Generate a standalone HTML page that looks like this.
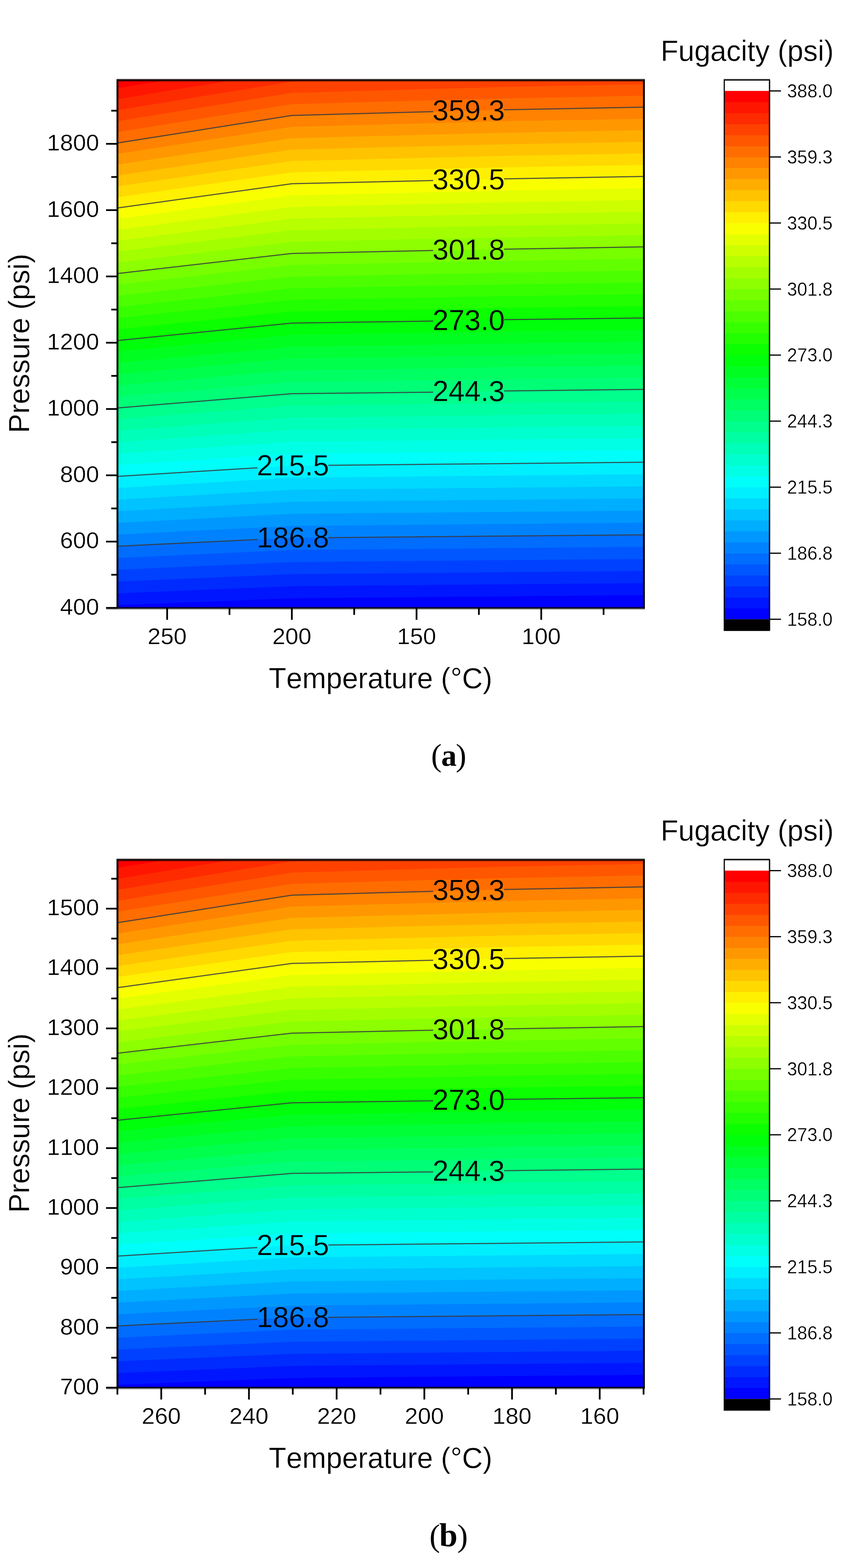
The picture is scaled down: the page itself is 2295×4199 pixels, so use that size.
<!DOCTYPE html>
<html lang="en">
<head>
<meta charset="utf-8">
<title>Fugacity contour plots</title>
<style>
html,body{margin:0;padding:0;background:#fff;}
body{width:2295px;height:4199px;}
svg{display:block;}
text{font-family:"Liberation Sans",Arial,Helvetica,sans-serif;fill:#000;stroke:#fff;stroke-width:0.5px;stroke-linejoin:round;font-kerning:none;}
text.cap,text.cap tspan{font-family:"Liberation Serif","Times New Roman",serif;stroke:none;}
</style>
</head>
<body>
<svg width="2295" height="4199" viewBox="0 0 2295 4199">
<defs>
<clipPath id="clipPlot"><rect x="314.5" y="213.6" width="1410" height="1414"/></clipPath>
</defs>

<rect width="2295" height="4199" fill="#fff"/>
<g id="plotA" transform="translate(0 0)">
<g clip-path="url(#clipPlot)">
<rect x="314.5" y="213.6" width="1410" height="1414" fill="#0000ff"/>
<polygon fill="#0016ff" points="309.5,208.6 1729.5,208.6 1729.5,1593.7 1724.5,1593.7 1350,1597.06 1160,1598.77 781.6,1602.17 314.5,1620.53 309.5,1620.53"/>
<polygon fill="#002bff" points="309.5,208.6 1729.5,208.6 1729.5,1561.4 1724.5,1561.4 1350,1564.75 1160,1566.45 781.6,1569.83 314.5,1588.96 309.5,1588.96"/>
<polygon fill="#0041ff" points="309.5,208.6 1729.5,208.6 1729.5,1529.1 1724.5,1529.1 1350,1532.44 1160,1534.13 781.6,1537.5 314.5,1557.38 309.5,1557.38"/>
<polygon fill="#0057ff" points="309.5,208.6 1729.5,208.6 1729.5,1496.8 1724.5,1496.8 1350,1500.12 1160,1501.81 781.6,1505.17 314.5,1525.8 309.5,1525.8"/>
<polygon fill="#006dff" points="309.5,208.6 1729.5,208.6 1729.5,1464.5 1724.5,1464.5 1350,1467.81 1160,1469.49 781.6,1472.83 314.5,1494.22 309.5,1494.22"/>
<polygon fill="#0082ff" points="309.5,208.6 1729.5,208.6 1729.5,1432.2 1724.5,1432.2 1350,1435.5 1160,1437.17 781.6,1440.5 314.5,1462.64 309.5,1462.64"/>
<polygon fill="#0098ff" points="309.5,208.6 1729.5,208.6 1729.5,1399.78 1724.5,1399.78 1350,1403.15 1160,1404.85 781.6,1408.25 314.5,1431.5 309.5,1431.5"/>
<polygon fill="#00aeff" points="309.5,208.6 1729.5,208.6 1729.5,1367.37 1724.5,1367.37 1350,1370.8 1160,1372.54 781.6,1376 314.5,1400.36 309.5,1400.36"/>
<polygon fill="#00c3ff" points="309.5,208.6 1729.5,208.6 1729.5,1334.95 1724.5,1334.95 1350,1338.45 1160,1340.22 781.6,1343.75 314.5,1369.21 309.5,1369.21"/>
<polygon fill="#00d9ff" points="309.5,208.6 1729.5,208.6 1729.5,1302.53 1724.5,1302.53 1350,1306.09 1160,1307.9 781.6,1311.5 314.5,1338.07 309.5,1338.07"/>
<polygon fill="#00efff" points="309.5,208.6 1729.5,208.6 1729.5,1270.12 1724.5,1270.12 1350,1273.74 1160,1275.58 781.6,1279.25 314.5,1306.93 309.5,1306.93"/>
<polygon fill="#00fffa" points="309.5,208.6 1729.5,208.6 1729.5,1237.7 1724.5,1237.7 1350,1241.39 1160,1243.27 781.6,1247 314.5,1275.78 309.5,1275.78"/>
<polygon fill="#00ffe4" points="309.5,208.6 1729.5,208.6 1729.5,1205.2 1724.5,1205.2 1350,1209 1160,1211.08 781.6,1214.88 314.5,1245.23 309.5,1245.23"/>
<polygon fill="#00ffce" points="309.5,208.6 1729.5,208.6 1729.5,1172.7 1724.5,1172.7 1350,1176.6 1160,1178.89 781.6,1182.77 314.5,1214.67 309.5,1214.67"/>
<polygon fill="#00ffb8" points="309.5,208.6 1729.5,208.6 1729.5,1140.2 1724.5,1140.2 1350,1144.2 1160,1146.71 781.6,1150.65 314.5,1184.11 309.5,1184.11"/>
<polygon fill="#00ffa3" points="309.5,208.6 1729.5,208.6 1729.5,1107.7 1724.5,1107.7 1350,1111.8 1160,1114.52 781.6,1118.53 314.5,1153.56 309.5,1153.56"/>
<polygon fill="#00ff8d" points="309.5,208.6 1729.5,208.6 1729.5,1075.2 1724.5,1075.2 1350,1079.41 1160,1082.33 781.6,1086.42 314.5,1123 309.5,1123"/>
<polygon fill="#00ff77" points="309.5,208.6 1729.5,208.6 1729.5,1042.7 1724.5,1042.7 1350,1047.01 1160,1050.14 781.6,1054.3 314.5,1092.44 309.5,1092.44"/>
<polygon fill="#00ff62" points="309.5,208.6 1729.5,208.6 1729.5,1010.82 1724.5,1010.82 1350,1015.19 1160,1018.43 781.6,1022.78 314.5,1062.35 309.5,1062.35"/>
<polygon fill="#00ff4c" points="309.5,208.6 1729.5,208.6 1729.5,978.93 1724.5,978.93 1350,983.37 1160,986.72 781.6,991.27 314.5,1032.26 309.5,1032.26"/>
<polygon fill="#00ff36" points="309.5,208.6 1729.5,208.6 1729.5,947.05 1724.5,947.05 1350,951.54 1160,955 781.6,959.75 314.5,1002.17 309.5,1002.17"/>
<polygon fill="#00ff21" points="309.5,208.6 1729.5,208.6 1729.5,915.17 1724.5,915.17 1350,919.72 1160,923.29 781.6,928.23 314.5,972.08 309.5,972.08"/>
<polygon fill="#00ff0b" points="309.5,208.6 1729.5,208.6 1729.5,883.28 1724.5,883.28 1350,887.9 1160,891.58 781.6,896.72 314.5,941.99 309.5,941.99"/>
<polygon fill="#0bff00" points="309.5,208.6 1729.5,208.6 1729.5,851.4 1724.5,851.4 1350,856.08 1160,859.86 781.6,865.2 314.5,911.9 309.5,911.9"/>
<polygon fill="#21ff00" points="309.5,208.6 1729.5,208.6 1729.5,819.68 1724.5,819.68 1350,824.62 1160,828.33 781.6,834.13 314.5,881.99 309.5,881.99"/>
<polygon fill="#36ff00" points="309.5,208.6 1729.5,208.6 1729.5,787.97 1724.5,787.97 1350,793.16 1160,796.81 781.6,803.07 314.5,852.08 309.5,852.08"/>
<polygon fill="#4cff00" points="309.5,208.6 1729.5,208.6 1729.5,756.25 1724.5,756.25 1350,761.71 1160,765.28 781.6,772 314.5,822.17 309.5,822.17"/>
<polygon fill="#62ff00" points="309.5,208.6 1729.5,208.6 1729.5,724.53 1724.5,724.53 1350,730.25 1160,733.75 781.6,740.93 314.5,792.26 309.5,792.26"/>
<polygon fill="#77ff00" points="309.5,208.6 1729.5,208.6 1729.5,692.82 1724.5,692.82 1350,698.79 1160,702.22 781.6,709.87 314.5,762.35 309.5,762.35"/>
<polygon fill="#8dff00" points="309.5,208.6 1729.5,208.6 1729.5,661.1 1724.5,661.1 1350,667.33 1160,670.7 781.6,678.8 314.5,732.44 309.5,732.44"/>
<polygon fill="#a3ff00" points="309.5,208.6 1729.5,208.6 1729.5,629.68 1724.5,629.68 1350,635.93 1160,639.51 781.6,647.68 314.5,703.19 309.5,703.19"/>
<polygon fill="#b8ff00" points="309.5,208.6 1729.5,208.6 1729.5,598.27 1724.5,598.27 1350,604.54 1160,608.32 781.6,616.57 314.5,673.94 309.5,673.94"/>
<polygon fill="#ceff00" points="309.5,208.6 1729.5,208.6 1729.5,566.85 1724.5,566.85 1350,573.14 1160,577.14 781.6,585.45 314.5,644.68 309.5,644.68"/>
<polygon fill="#e4ff00" points="309.5,208.6 1729.5,208.6 1729.5,535.43 1724.5,535.43 1350,541.74 1160,545.95 781.6,554.33 314.5,615.43 309.5,615.43"/>
<polygon fill="#faff00" points="309.5,208.6 1729.5,208.6 1729.5,504.02 1724.5,504.02 1350,510.34 1160,514.76 781.6,523.22 314.5,586.17 309.5,586.17"/>
<polygon fill="#ffef00" points="309.5,208.6 1729.5,208.6 1729.5,472.6 1724.5,472.6 1350,478.94 1160,483.57 781.6,492.1 314.5,556.92 309.5,556.92"/>
<polygon fill="#ffd900" points="309.5,208.6 1729.5,208.6 1729.5,441.67 1724.5,441.67 1350,448.12 1160,452.79 781.6,461.62 314.5,527.94 309.5,527.94"/>
<polygon fill="#ffc300" points="309.5,208.6 1729.5,208.6 1729.5,410.73 1724.5,410.73 1350,417.3 1160,422.01 781.6,431.13 314.5,498.97 309.5,498.97"/>
<polygon fill="#ffae00" points="309.5,208.6 1729.5,208.6 1729.5,379.8 1724.5,379.8 1350,386.48 1160,391.23 781.6,400.65 314.5,470 309.5,470"/>
<polygon fill="#ff9800" points="309.5,208.6 1729.5,208.6 1729.5,348.87 1724.5,348.87 1350,355.66 1160,360.45 781.6,370.17 314.5,441.02 309.5,441.02"/>
<polygon fill="#ff8200" points="309.5,208.6 1729.5,208.6 1729.5,317.93 1724.5,317.93 1350,324.84 1160,329.67 781.6,339.68 314.5,412.05 309.5,412.05"/>
<polygon fill="#ff6d00" points="309.5,208.6 1729.5,208.6 1729.5,287 1724.5,287 1350,294.02 1160,298.89 781.6,309.2 314.5,383.07 309.5,383.07"/>
<polygon fill="#ff5700" points="309.5,208.6 1729.5,208.6 1729.5,256.33 1724.5,256.33 1350,263.54 1160,268.5 781.6,279 314.5,353.73 309.5,353.73"/>
<polygon fill="#ff4100" points="309.5,208.6 1729.5,208.6 1729.5,225.67 1724.5,225.67 1350,233.05 1160,238.12 781.6,248.8 314.5,324.39 309.5,324.39"/>
<polygon fill="#ff2b00" points="309.5,208.6 1729.5,208.6 1729.5,195 1724.5,195 1350,202.57 1160,207.73 781.6,218.6 314.5,295.04 309.5,295.04"/>
<polygon fill="#ff1600" points="309.5,208.6 1729.5,208.6 1729.5,164.33 1724.5,164.33 1350,172.09 1160,177.34 781.6,188.4 314.5,265.7 309.5,265.7"/>
<polygon fill="#ff0000" points="309.5,208.6 1729.5,208.6 1729.5,133.67 1724.5,133.67 1350,141.61 1160,146.95 781.6,158.2 314.5,236.35 309.5,236.35"/>
</g>
<g fill="none" stroke="#383a40" stroke-opacity="0.86" stroke-width="3" clip-path="url(#clipPlot)">
<polyline points="314.5,383.07 781.6,309.2 1160,298.89"/>
<polyline points="1350,294.02 1724.5,287"/>
<polyline points="314.5,556.92 781.6,492.1 1160,483.57"/>
<polyline points="1350,478.94 1724.5,472.6"/>
<polyline points="314.5,732.44 781.6,678.8 1160,670.7"/>
<polyline points="1350,667.33 1724.5,661.1"/>
<polyline points="314.5,911.9 781.6,865.2 1160,859.86"/>
<polyline points="1350,856.08 1724.5,851.4"/>
<polyline points="314.5,1092.44 781.6,1054.3 1160,1050.14"/>
<polyline points="1350,1047.01 1724.5,1042.7"/>
<polyline points="314.5,1275.78 689.4,1252.68"/>
<polyline points="879.4,1246.04 1160,1243.27 1350,1241.39 1724.5,1237.7"/>
<polyline points="314.5,1462.64 689.4,1444.87"/>
<polyline points="879.4,1439.64 1160,1437.17 1350,1435.5 1724.5,1432.2"/>
</g>
<g class="clab">
<text text-anchor="middle" font-size="77" transform="translate(1255 322.14) scale(1.005 1)" style="stroke:#ff7700">359.3</text>
<text text-anchor="middle" font-size="77" transform="translate(1255 506.95) scale(1.005 1)" style="stroke:#fffa00">330.5</text>
<text text-anchor="middle" font-size="77" transform="translate(1255 694.7) scale(1.005 1)" style="stroke:#82ff00">301.8</text>
<text text-anchor="middle" font-size="77" transform="translate(1255 883.66) scale(1.005 1)" style="stroke:#00ff00">273.0</text>
<text text-anchor="middle" font-size="77" transform="translate(1255 1074.26) scale(1.005 1)" style="stroke:#00ff82">244.3</text>
<text text-anchor="middle" font-size="77" transform="translate(784.4 1272.66) scale(1.005 1)" style="stroke:#00faff">215.5</text>
<text text-anchor="middle" font-size="77" transform="translate(784.4 1466.16) scale(1.005 1)" style="stroke:#0077ff">186.8</text>
</g>
<rect x="312" y="211.2" width="1414.9" height="2.3" fill="#5c5c5c"/>
<rect x="317" y="216" width="1404.9" height="2.7" fill="#000" fill-opacity="0.42"/>
<rect x="317" y="1624.8" width="1404.9" height="2.4" fill="#000" fill-opacity="0.42"/>
<rect x="284.5" y="1629.6" width="1442.4" height="3.1" fill="#a3a3a3"/>
<g stroke="#000" stroke-width="4.6">
<line x1="284" y1="1627.9" x2="314.5" y2="1627.9"/>
<line x1="284" y1="1450.37" x2="314.5" y2="1450.37"/>
<line x1="284" y1="1272.84" x2="314.5" y2="1272.84"/>
<line x1="284" y1="1095.32" x2="314.5" y2="1095.32"/>
<line x1="284" y1="917.79" x2="314.5" y2="917.79"/>
<line x1="284" y1="740.26" x2="314.5" y2="740.26"/>
<line x1="284" y1="562.73" x2="314.5" y2="562.73"/>
<line x1="284" y1="385.2" x2="314.5" y2="385.2"/>
<line x1="298" y1="1539.14" x2="314.5" y2="1539.14"/>
<line x1="298" y1="1361.61" x2="314.5" y2="1361.61"/>
<line x1="298" y1="1184.08" x2="314.5" y2="1184.08"/>
<line x1="298" y1="1006.55" x2="314.5" y2="1006.55"/>
<line x1="298" y1="829.02" x2="314.5" y2="829.02"/>
<line x1="298" y1="651.5" x2="314.5" y2="651.5"/>
<line x1="298" y1="473.97" x2="314.5" y2="473.97"/>
<line x1="298" y1="296.44" x2="314.5" y2="296.44"/>
<line x1="447.6" y1="1627.6" x2="447.6" y2="1659.8"/>
<line x1="781.54" y1="1627.6" x2="781.54" y2="1659.8"/>
<line x1="1115.47" y1="1627.6" x2="1115.47" y2="1659.8"/>
<line x1="1449.41" y1="1627.6" x2="1449.41" y2="1659.8"/>
<line x1="614.57" y1="1627.6" x2="614.57" y2="1646.6"/>
<line x1="948.5" y1="1627.6" x2="948.5" y2="1646.6"/>
<line x1="1282.44" y1="1627.6" x2="1282.44" y2="1646.6"/>
<line x1="1616.37" y1="1627.6" x2="1616.37" y2="1646.6"/>
</g>
<g fill="#000">
<rect x="312" y="213.4" width="1414.9" height="2.8"/>
<rect x="312" y="1627" width="1414.9" height="2.8"/>
<rect x="312" y="213.4" width="5.1" height="1416.4"/>
<rect x="1721.8" y="213.4" width="5.1" height="1416.4"/>
</g>
<g class="tl" style="stroke-width:0.4px">
<text text-anchor="end" font-size="61.5" transform="translate(265.3 1645.76) scale(1.02 1)">400</text>
<text text-anchor="end" font-size="61.5" transform="translate(265.3 1468.23) scale(1.02 1)">600</text>
<text text-anchor="end" font-size="61.5" transform="translate(265.3 1290.7) scale(1.02 1)">800</text>
<text text-anchor="end" font-size="61.5" transform="translate(265.3 1113.17) scale(1.02 1)">1000</text>
<text text-anchor="end" font-size="61.5" transform="translate(265.3 935.64) scale(1.02 1)">1200</text>
<text text-anchor="end" font-size="61.5" transform="translate(265.3 758.12) scale(1.02 1)">1400</text>
<text text-anchor="end" font-size="61.5" transform="translate(265.3 580.59) scale(1.02 1)">1600</text>
<text text-anchor="end" font-size="61.5" transform="translate(265.3 403.06) scale(1.02 1)">1800</text>
</g>
<g class="tl" style="stroke-width:0.4px">
<text text-anchor="middle" font-size="61.5" transform="translate(447.6 1725.46) scale(1.02 1)">250</text>
<text text-anchor="middle" font-size="61.5" transform="translate(781.54 1725.46) scale(1.02 1)">200</text>
<text text-anchor="middle" font-size="61.5" transform="translate(1115.47 1725.46) scale(1.02 1)">150</text>
<text text-anchor="middle" font-size="61.5" transform="translate(1449.41 1725.46) scale(1.02 1)">100</text>
</g>
<text class="ttl" text-anchor="middle" font-size="78" transform="translate(1019 1843.4) scale(0.985 1)">Temperature (°C)</text>
<text class="ttl" font-size="77" text-anchor="middle" transform="translate(77.6 919.4) rotate(-90) scale(1.002 1)">Pressure (psi)</text>
<g>
<rect x="1939.5" y="214.3" width="121" height="29.2" fill="#fff"/>
<rect x="1939.5" y="1628.83" width="121" height="29.47" fill="#0000ff"/>
<rect x="1939.5" y="1599.35" width="121" height="30.07" fill="#0016ff"/>
<rect x="1939.5" y="1569.88" width="121" height="30.07" fill="#002bff"/>
<rect x="1939.5" y="1540.4" width="121" height="30.07" fill="#0041ff"/>
<rect x="1939.5" y="1510.92" width="121" height="30.07" fill="#0057ff"/>
<rect x="1939.5" y="1481.45" width="121" height="30.07" fill="#006dff"/>
<rect x="1939.5" y="1451.98" width="121" height="30.07" fill="#0082ff"/>
<rect x="1939.5" y="1422.5" width="121" height="30.07" fill="#0098ff"/>
<rect x="1939.5" y="1393.03" width="121" height="30.07" fill="#00aeff"/>
<rect x="1939.5" y="1363.55" width="121" height="30.07" fill="#00c3ff"/>
<rect x="1939.5" y="1334.08" width="121" height="30.07" fill="#00d9ff"/>
<rect x="1939.5" y="1304.6" width="121" height="30.07" fill="#00efff"/>
<rect x="1939.5" y="1275.12" width="121" height="30.07" fill="#00fffa"/>
<rect x="1939.5" y="1245.65" width="121" height="30.07" fill="#00ffe4"/>
<rect x="1939.5" y="1216.18" width="121" height="30.07" fill="#00ffce"/>
<rect x="1939.5" y="1186.7" width="121" height="30.07" fill="#00ffb8"/>
<rect x="1939.5" y="1157.23" width="121" height="30.07" fill="#00ffa3"/>
<rect x="1939.5" y="1127.75" width="121" height="30.07" fill="#00ff8d"/>
<rect x="1939.5" y="1098.28" width="121" height="30.07" fill="#00ff77"/>
<rect x="1939.5" y="1068.8" width="121" height="30.07" fill="#00ff62"/>
<rect x="1939.5" y="1039.33" width="121" height="30.07" fill="#00ff4c"/>
<rect x="1939.5" y="1009.85" width="121" height="30.07" fill="#00ff36"/>
<rect x="1939.5" y="980.38" width="121" height="30.07" fill="#00ff21"/>
<rect x="1939.5" y="950.9" width="121" height="30.07" fill="#00ff0b"/>
<rect x="1939.5" y="921.42" width="121" height="30.07" fill="#0bff00"/>
<rect x="1939.5" y="891.95" width="121" height="30.07" fill="#21ff00"/>
<rect x="1939.5" y="862.48" width="121" height="30.07" fill="#36ff00"/>
<rect x="1939.5" y="833" width="121" height="30.07" fill="#4cff00"/>
<rect x="1939.5" y="803.52" width="121" height="30.07" fill="#62ff00"/>
<rect x="1939.5" y="774.05" width="121" height="30.07" fill="#77ff00"/>
<rect x="1939.5" y="744.58" width="121" height="30.07" fill="#8dff00"/>
<rect x="1939.5" y="715.1" width="121" height="30.07" fill="#a3ff00"/>
<rect x="1939.5" y="685.62" width="121" height="30.07" fill="#b8ff00"/>
<rect x="1939.5" y="656.15" width="121" height="30.07" fill="#ceff00"/>
<rect x="1939.5" y="626.67" width="121" height="30.07" fill="#e4ff00"/>
<rect x="1939.5" y="597.2" width="121" height="30.07" fill="#faff00"/>
<rect x="1939.5" y="567.73" width="121" height="30.07" fill="#ffef00"/>
<rect x="1939.5" y="538.25" width="121" height="30.07" fill="#ffd900"/>
<rect x="1939.5" y="508.77" width="121" height="30.07" fill="#ffc300"/>
<rect x="1939.5" y="479.3" width="121" height="30.07" fill="#ffae00"/>
<rect x="1939.5" y="449.82" width="121" height="30.07" fill="#ff9800"/>
<rect x="1939.5" y="420.35" width="121" height="30.07" fill="#ff8200"/>
<rect x="1939.5" y="390.88" width="121" height="30.07" fill="#ff6d00"/>
<rect x="1939.5" y="361.4" width="121" height="30.07" fill="#ff5700"/>
<rect x="1939.5" y="331.93" width="121" height="30.07" fill="#ff4100"/>
<rect x="1939.5" y="302.45" width="121" height="30.07" fill="#ff2b00"/>
<rect x="1939.5" y="272.98" width="121" height="30.07" fill="#ff1600"/>
<rect x="1939.5" y="243.5" width="121" height="30.07" fill="#ff0000"/>
<rect x="1939.5" y="1658.3" width="121" height="29.9" fill="#000"/>
<rect x="1938" y="211.1" width="124" height="2" fill="#8a8a8a"/>
<rect x="2062" y="214.3" width="2" height="1473.9" fill="#c4c4c4"/>
<rect x="1939.5" y="214.3" width="121" height="1473.9" fill="none" stroke="#000" stroke-width="3"/>
<g stroke="#000" stroke-width="3.2">
<line x1="2062" y1="243.5" x2="2091.5" y2="243.5"/>
<line x1="2062" y1="420.35" x2="2091.5" y2="420.35"/>
<line x1="2062" y1="597.2" x2="2091.5" y2="597.2"/>
<line x1="2062" y1="774.05" x2="2091.5" y2="774.05"/>
<line x1="2062" y1="950.9" x2="2091.5" y2="950.9"/>
<line x1="2062" y1="1127.75" x2="2091.5" y2="1127.75"/>
<line x1="2062" y1="1304.6" x2="2091.5" y2="1304.6"/>
<line x1="2062" y1="1481.45" x2="2091.5" y2="1481.45"/>
<line x1="2062" y1="1658.3" x2="2091.5" y2="1658.3"/>
</g>
<g class="cbl" style="stroke:none">
<text font-size="50.3" transform="translate(2107.8 261) scale(0.967 1)">388.0</text>
<text font-size="50.3" transform="translate(2107.8 437.85) scale(0.967 1)">359.3</text>
<text font-size="50.3" transform="translate(2107.8 614.7) scale(0.967 1)">330.5</text>
<text font-size="50.3" transform="translate(2107.8 791.55) scale(0.967 1)">301.8</text>
<text font-size="50.3" transform="translate(2107.8 968.4) scale(0.967 1)">273.0</text>
<text font-size="50.3" transform="translate(2107.8 1145.25) scale(0.967 1)">244.3</text>
<text font-size="50.3" transform="translate(2107.8 1322.1) scale(0.967 1)">215.5</text>
<text font-size="50.3" transform="translate(2107.8 1498.95) scale(0.967 1)">186.8</text>
<text font-size="50.3" transform="translate(2107.8 1675.8) scale(0.967 1)">158.0</text>
</g>
<text class="ttl" font-size="77" transform="translate(1769.3 162.8) scale(1.003 1)">Fugacity (psi)</text>
</g>
</g>
<g id="plotB" transform="translate(0 2088)">
<g clip-path="url(#clipPlot)">
<rect x="314.5" y="213.6" width="1410" height="1414" fill="#0000ff"/>
<polygon fill="#0016ff" points="309.5,208.6 1729.5,208.6 1729.5,1593.7 1724.5,1593.7 1350,1597.06 1160,1598.77 781.6,1602.17 314.5,1620.53 309.5,1620.53"/>
<polygon fill="#002bff" points="309.5,208.6 1729.5,208.6 1729.5,1561.4 1724.5,1561.4 1350,1564.75 1160,1566.45 781.6,1569.83 314.5,1588.96 309.5,1588.96"/>
<polygon fill="#0041ff" points="309.5,208.6 1729.5,208.6 1729.5,1529.1 1724.5,1529.1 1350,1532.44 1160,1534.13 781.6,1537.5 314.5,1557.38 309.5,1557.38"/>
<polygon fill="#0057ff" points="309.5,208.6 1729.5,208.6 1729.5,1496.8 1724.5,1496.8 1350,1500.12 1160,1501.81 781.6,1505.17 314.5,1525.8 309.5,1525.8"/>
<polygon fill="#006dff" points="309.5,208.6 1729.5,208.6 1729.5,1464.5 1724.5,1464.5 1350,1467.81 1160,1469.49 781.6,1472.83 314.5,1494.22 309.5,1494.22"/>
<polygon fill="#0082ff" points="309.5,208.6 1729.5,208.6 1729.5,1432.2 1724.5,1432.2 1350,1435.5 1160,1437.17 781.6,1440.5 314.5,1462.64 309.5,1462.64"/>
<polygon fill="#0098ff" points="309.5,208.6 1729.5,208.6 1729.5,1399.78 1724.5,1399.78 1350,1403.15 1160,1404.85 781.6,1408.25 314.5,1431.5 309.5,1431.5"/>
<polygon fill="#00aeff" points="309.5,208.6 1729.5,208.6 1729.5,1367.37 1724.5,1367.37 1350,1370.8 1160,1372.54 781.6,1376 314.5,1400.36 309.5,1400.36"/>
<polygon fill="#00c3ff" points="309.5,208.6 1729.5,208.6 1729.5,1334.95 1724.5,1334.95 1350,1338.45 1160,1340.22 781.6,1343.75 314.5,1369.21 309.5,1369.21"/>
<polygon fill="#00d9ff" points="309.5,208.6 1729.5,208.6 1729.5,1302.53 1724.5,1302.53 1350,1306.09 1160,1307.9 781.6,1311.5 314.5,1338.07 309.5,1338.07"/>
<polygon fill="#00efff" points="309.5,208.6 1729.5,208.6 1729.5,1270.12 1724.5,1270.12 1350,1273.74 1160,1275.58 781.6,1279.25 314.5,1306.93 309.5,1306.93"/>
<polygon fill="#00fffa" points="309.5,208.6 1729.5,208.6 1729.5,1237.7 1724.5,1237.7 1350,1241.39 1160,1243.27 781.6,1247 314.5,1275.78 309.5,1275.78"/>
<polygon fill="#00ffe4" points="309.5,208.6 1729.5,208.6 1729.5,1205.2 1724.5,1205.2 1350,1209 1160,1211.08 781.6,1214.88 314.5,1245.23 309.5,1245.23"/>
<polygon fill="#00ffce" points="309.5,208.6 1729.5,208.6 1729.5,1172.7 1724.5,1172.7 1350,1176.6 1160,1178.89 781.6,1182.77 314.5,1214.67 309.5,1214.67"/>
<polygon fill="#00ffb8" points="309.5,208.6 1729.5,208.6 1729.5,1140.2 1724.5,1140.2 1350,1144.2 1160,1146.71 781.6,1150.65 314.5,1184.11 309.5,1184.11"/>
<polygon fill="#00ffa3" points="309.5,208.6 1729.5,208.6 1729.5,1107.7 1724.5,1107.7 1350,1111.8 1160,1114.52 781.6,1118.53 314.5,1153.56 309.5,1153.56"/>
<polygon fill="#00ff8d" points="309.5,208.6 1729.5,208.6 1729.5,1075.2 1724.5,1075.2 1350,1079.41 1160,1082.33 781.6,1086.42 314.5,1123 309.5,1123"/>
<polygon fill="#00ff77" points="309.5,208.6 1729.5,208.6 1729.5,1042.7 1724.5,1042.7 1350,1047.01 1160,1050.14 781.6,1054.3 314.5,1092.44 309.5,1092.44"/>
<polygon fill="#00ff62" points="309.5,208.6 1729.5,208.6 1729.5,1010.82 1724.5,1010.82 1350,1015.19 1160,1018.43 781.6,1022.78 314.5,1062.35 309.5,1062.35"/>
<polygon fill="#00ff4c" points="309.5,208.6 1729.5,208.6 1729.5,978.93 1724.5,978.93 1350,983.37 1160,986.72 781.6,991.27 314.5,1032.26 309.5,1032.26"/>
<polygon fill="#00ff36" points="309.5,208.6 1729.5,208.6 1729.5,947.05 1724.5,947.05 1350,951.54 1160,955 781.6,959.75 314.5,1002.17 309.5,1002.17"/>
<polygon fill="#00ff21" points="309.5,208.6 1729.5,208.6 1729.5,915.17 1724.5,915.17 1350,919.72 1160,923.29 781.6,928.23 314.5,972.08 309.5,972.08"/>
<polygon fill="#00ff0b" points="309.5,208.6 1729.5,208.6 1729.5,883.28 1724.5,883.28 1350,887.9 1160,891.58 781.6,896.72 314.5,941.99 309.5,941.99"/>
<polygon fill="#0bff00" points="309.5,208.6 1729.5,208.6 1729.5,851.4 1724.5,851.4 1350,856.08 1160,859.86 781.6,865.2 314.5,911.9 309.5,911.9"/>
<polygon fill="#21ff00" points="309.5,208.6 1729.5,208.6 1729.5,819.68 1724.5,819.68 1350,824.62 1160,828.33 781.6,834.13 314.5,881.99 309.5,881.99"/>
<polygon fill="#36ff00" points="309.5,208.6 1729.5,208.6 1729.5,787.97 1724.5,787.97 1350,793.16 1160,796.81 781.6,803.07 314.5,852.08 309.5,852.08"/>
<polygon fill="#4cff00" points="309.5,208.6 1729.5,208.6 1729.5,756.25 1724.5,756.25 1350,761.71 1160,765.28 781.6,772 314.5,822.17 309.5,822.17"/>
<polygon fill="#62ff00" points="309.5,208.6 1729.5,208.6 1729.5,724.53 1724.5,724.53 1350,730.25 1160,733.75 781.6,740.93 314.5,792.26 309.5,792.26"/>
<polygon fill="#77ff00" points="309.5,208.6 1729.5,208.6 1729.5,692.82 1724.5,692.82 1350,698.79 1160,702.22 781.6,709.87 314.5,762.35 309.5,762.35"/>
<polygon fill="#8dff00" points="309.5,208.6 1729.5,208.6 1729.5,661.1 1724.5,661.1 1350,667.33 1160,670.7 781.6,678.8 314.5,732.44 309.5,732.44"/>
<polygon fill="#a3ff00" points="309.5,208.6 1729.5,208.6 1729.5,629.68 1724.5,629.68 1350,635.93 1160,639.51 781.6,647.68 314.5,703.19 309.5,703.19"/>
<polygon fill="#b8ff00" points="309.5,208.6 1729.5,208.6 1729.5,598.27 1724.5,598.27 1350,604.54 1160,608.32 781.6,616.57 314.5,673.94 309.5,673.94"/>
<polygon fill="#ceff00" points="309.5,208.6 1729.5,208.6 1729.5,566.85 1724.5,566.85 1350,573.14 1160,577.14 781.6,585.45 314.5,644.68 309.5,644.68"/>
<polygon fill="#e4ff00" points="309.5,208.6 1729.5,208.6 1729.5,535.43 1724.5,535.43 1350,541.74 1160,545.95 781.6,554.33 314.5,615.43 309.5,615.43"/>
<polygon fill="#faff00" points="309.5,208.6 1729.5,208.6 1729.5,504.02 1724.5,504.02 1350,510.34 1160,514.76 781.6,523.22 314.5,586.17 309.5,586.17"/>
<polygon fill="#ffef00" points="309.5,208.6 1729.5,208.6 1729.5,472.6 1724.5,472.6 1350,478.94 1160,483.57 781.6,492.1 314.5,556.92 309.5,556.92"/>
<polygon fill="#ffd900" points="309.5,208.6 1729.5,208.6 1729.5,441.67 1724.5,441.67 1350,448.12 1160,452.79 781.6,461.62 314.5,527.94 309.5,527.94"/>
<polygon fill="#ffc300" points="309.5,208.6 1729.5,208.6 1729.5,410.73 1724.5,410.73 1350,417.3 1160,422.01 781.6,431.13 314.5,498.97 309.5,498.97"/>
<polygon fill="#ffae00" points="309.5,208.6 1729.5,208.6 1729.5,379.8 1724.5,379.8 1350,386.48 1160,391.23 781.6,400.65 314.5,470 309.5,470"/>
<polygon fill="#ff9800" points="309.5,208.6 1729.5,208.6 1729.5,348.87 1724.5,348.87 1350,355.66 1160,360.45 781.6,370.17 314.5,441.02 309.5,441.02"/>
<polygon fill="#ff8200" points="309.5,208.6 1729.5,208.6 1729.5,317.93 1724.5,317.93 1350,324.84 1160,329.67 781.6,339.68 314.5,412.05 309.5,412.05"/>
<polygon fill="#ff6d00" points="309.5,208.6 1729.5,208.6 1729.5,287 1724.5,287 1350,294.02 1160,298.89 781.6,309.2 314.5,383.07 309.5,383.07"/>
<polygon fill="#ff5700" points="309.5,208.6 1729.5,208.6 1729.5,256.33 1724.5,256.33 1350,263.54 1160,268.5 781.6,279 314.5,353.73 309.5,353.73"/>
<polygon fill="#ff4100" points="309.5,208.6 1729.5,208.6 1729.5,225.67 1724.5,225.67 1350,233.05 1160,238.12 781.6,248.8 314.5,324.39 309.5,324.39"/>
<polygon fill="#ff2b00" points="309.5,208.6 1729.5,208.6 1729.5,195 1724.5,195 1350,202.57 1160,207.73 781.6,218.6 314.5,295.04 309.5,295.04"/>
<polygon fill="#ff1600" points="309.5,208.6 1729.5,208.6 1729.5,164.33 1724.5,164.33 1350,172.09 1160,177.34 781.6,188.4 314.5,265.7 309.5,265.7"/>
<polygon fill="#ff0000" points="309.5,208.6 1729.5,208.6 1729.5,133.67 1724.5,133.67 1350,141.61 1160,146.95 781.6,158.2 314.5,236.35 309.5,236.35"/>
</g>
<g fill="none" stroke="#383a40" stroke-opacity="0.86" stroke-width="3" clip-path="url(#clipPlot)">
<polyline points="314.5,383.07 781.6,309.2 1160,298.89"/>
<polyline points="1350,294.02 1724.5,287"/>
<polyline points="314.5,556.92 781.6,492.1 1160,483.57"/>
<polyline points="1350,478.94 1724.5,472.6"/>
<polyline points="314.5,732.44 781.6,678.8 1160,670.7"/>
<polyline points="1350,667.33 1724.5,661.1"/>
<polyline points="314.5,911.9 781.6,865.2 1160,859.86"/>
<polyline points="1350,856.08 1724.5,851.4"/>
<polyline points="314.5,1092.44 781.6,1054.3 1160,1050.14"/>
<polyline points="1350,1047.01 1724.5,1042.7"/>
<polyline points="314.5,1275.78 689.4,1252.68"/>
<polyline points="879.4,1246.04 1160,1243.27 1350,1241.39 1724.5,1237.7"/>
<polyline points="314.5,1462.64 689.4,1444.87"/>
<polyline points="879.4,1439.64 1160,1437.17 1350,1435.5 1724.5,1432.2"/>
</g>
<g class="clab">
<text text-anchor="middle" font-size="77" transform="translate(1255 322.14) scale(1.005 1)" style="stroke:#ff7700">359.3</text>
<text text-anchor="middle" font-size="77" transform="translate(1255 506.95) scale(1.005 1)" style="stroke:#fffa00">330.5</text>
<text text-anchor="middle" font-size="77" transform="translate(1255 694.7) scale(1.005 1)" style="stroke:#82ff00">301.8</text>
<text text-anchor="middle" font-size="77" transform="translate(1255 883.66) scale(1.005 1)" style="stroke:#00ff00">273.0</text>
<text text-anchor="middle" font-size="77" transform="translate(1255 1074.26) scale(1.005 1)" style="stroke:#00ff82">244.3</text>
<text text-anchor="middle" font-size="77" transform="translate(784.4 1272.66) scale(1.005 1)" style="stroke:#00faff">215.5</text>
<text text-anchor="middle" font-size="77" transform="translate(784.4 1466.16) scale(1.005 1)" style="stroke:#0077ff">186.8</text>
</g>
<rect x="312" y="211.2" width="1414.9" height="2.3" fill="#5c5c5c"/>
<rect x="317" y="216" width="1404.9" height="2.7" fill="#000" fill-opacity="0.42"/>
<rect x="317" y="1624.8" width="1404.9" height="2.4" fill="#000" fill-opacity="0.42"/>
<rect x="284.5" y="1629.6" width="1442.4" height="3.1" fill="#a3a3a3"/>
<g stroke="#000" stroke-width="4.6">
<line x1="284" y1="1628" x2="314.5" y2="1628"/>
<line x1="284" y1="1467.66" x2="314.5" y2="1467.66"/>
<line x1="284" y1="1307.32" x2="314.5" y2="1307.32"/>
<line x1="284" y1="1146.98" x2="314.5" y2="1146.98"/>
<line x1="284" y1="986.64" x2="314.5" y2="986.64"/>
<line x1="284" y1="826.3" x2="314.5" y2="826.3"/>
<line x1="284" y1="665.96" x2="314.5" y2="665.96"/>
<line x1="284" y1="505.62" x2="314.5" y2="505.62"/>
<line x1="284" y1="345.28" x2="314.5" y2="345.28"/>
<line x1="298" y1="1547.83" x2="314.5" y2="1547.83"/>
<line x1="298" y1="1387.49" x2="314.5" y2="1387.49"/>
<line x1="298" y1="1227.15" x2="314.5" y2="1227.15"/>
<line x1="298" y1="1066.81" x2="314.5" y2="1066.81"/>
<line x1="298" y1="906.47" x2="314.5" y2="906.47"/>
<line x1="298" y1="746.13" x2="314.5" y2="746.13"/>
<line x1="298" y1="585.79" x2="314.5" y2="585.79"/>
<line x1="298" y1="425.45" x2="314.5" y2="425.45"/>
<line x1="298" y1="265.11" x2="314.5" y2="265.11"/>
<line x1="431.82" y1="1627.6" x2="431.82" y2="1659.8"/>
<line x1="666.66" y1="1627.6" x2="666.66" y2="1659.8"/>
<line x1="901.5" y1="1627.6" x2="901.5" y2="1659.8"/>
<line x1="1136.34" y1="1627.6" x2="1136.34" y2="1659.8"/>
<line x1="1371.18" y1="1627.6" x2="1371.18" y2="1659.8"/>
<line x1="1606.02" y1="1627.6" x2="1606.02" y2="1659.8"/>
<line x1="314.4" y1="1627.6" x2="314.4" y2="1646.6"/>
<line x1="549.24" y1="1627.6" x2="549.24" y2="1646.6"/>
<line x1="784.08" y1="1627.6" x2="784.08" y2="1646.6"/>
<line x1="1018.92" y1="1627.6" x2="1018.92" y2="1646.6"/>
<line x1="1253.76" y1="1627.6" x2="1253.76" y2="1646.6"/>
<line x1="1488.6" y1="1627.6" x2="1488.6" y2="1646.6"/>
<line x1="1723.44" y1="1627.6" x2="1723.44" y2="1646.6"/>
</g>
<g fill="#000">
<rect x="312" y="213.4" width="1414.9" height="2.8"/>
<rect x="312" y="1627" width="1414.9" height="2.8"/>
<rect x="312" y="213.4" width="5.1" height="1416.4"/>
<rect x="1721.8" y="213.4" width="5.1" height="1416.4"/>
</g>
<g class="tl" style="stroke-width:0.4px">
<text text-anchor="end" font-size="61.5" transform="translate(265.3 1645.86) scale(1.02 1)">700</text>
<text text-anchor="end" font-size="61.5" transform="translate(265.3 1485.52) scale(1.02 1)">800</text>
<text text-anchor="end" font-size="61.5" transform="translate(265.3 1325.18) scale(1.02 1)">900</text>
<text text-anchor="end" font-size="61.5" transform="translate(265.3 1164.84) scale(1.02 1)">1000</text>
<text text-anchor="end" font-size="61.5" transform="translate(265.3 1004.5) scale(1.02 1)">1100</text>
<text text-anchor="end" font-size="61.5" transform="translate(265.3 844.16) scale(1.02 1)">1200</text>
<text text-anchor="end" font-size="61.5" transform="translate(265.3 683.82) scale(1.02 1)">1300</text>
<text text-anchor="end" font-size="61.5" transform="translate(265.3 523.48) scale(1.02 1)">1400</text>
<text text-anchor="end" font-size="61.5" transform="translate(265.3 363.14) scale(1.02 1)">1500</text>
</g>
<g class="tl" style="stroke-width:0.4px">
<text text-anchor="middle" font-size="61.5" transform="translate(431.82 1725.46) scale(1.02 1)">260</text>
<text text-anchor="middle" font-size="61.5" transform="translate(666.66 1725.46) scale(1.02 1)">240</text>
<text text-anchor="middle" font-size="61.5" transform="translate(901.5 1725.46) scale(1.02 1)">220</text>
<text text-anchor="middle" font-size="61.5" transform="translate(1136.34 1725.46) scale(1.02 1)">200</text>
<text text-anchor="middle" font-size="61.5" transform="translate(1371.18 1725.46) scale(1.02 1)">180</text>
<text text-anchor="middle" font-size="61.5" transform="translate(1606.02 1725.46) scale(1.02 1)">160</text>
</g>
<text class="ttl" text-anchor="middle" font-size="78" transform="translate(1019 1843.4) scale(0.985 1)">Temperature (°C)</text>
<text class="ttl" font-size="77" text-anchor="middle" transform="translate(77.6 919.4) rotate(-90) scale(1.002 1)">Pressure (psi)</text>
<g>
<rect x="1939.5" y="214.3" width="121" height="29.2" fill="#fff"/>
<rect x="1939.5" y="1628.83" width="121" height="29.47" fill="#0000ff"/>
<rect x="1939.5" y="1599.35" width="121" height="30.07" fill="#0016ff"/>
<rect x="1939.5" y="1569.88" width="121" height="30.07" fill="#002bff"/>
<rect x="1939.5" y="1540.4" width="121" height="30.07" fill="#0041ff"/>
<rect x="1939.5" y="1510.92" width="121" height="30.07" fill="#0057ff"/>
<rect x="1939.5" y="1481.45" width="121" height="30.07" fill="#006dff"/>
<rect x="1939.5" y="1451.98" width="121" height="30.07" fill="#0082ff"/>
<rect x="1939.5" y="1422.5" width="121" height="30.07" fill="#0098ff"/>
<rect x="1939.5" y="1393.03" width="121" height="30.07" fill="#00aeff"/>
<rect x="1939.5" y="1363.55" width="121" height="30.07" fill="#00c3ff"/>
<rect x="1939.5" y="1334.08" width="121" height="30.07" fill="#00d9ff"/>
<rect x="1939.5" y="1304.6" width="121" height="30.07" fill="#00efff"/>
<rect x="1939.5" y="1275.12" width="121" height="30.07" fill="#00fffa"/>
<rect x="1939.5" y="1245.65" width="121" height="30.07" fill="#00ffe4"/>
<rect x="1939.5" y="1216.18" width="121" height="30.07" fill="#00ffce"/>
<rect x="1939.5" y="1186.7" width="121" height="30.07" fill="#00ffb8"/>
<rect x="1939.5" y="1157.23" width="121" height="30.07" fill="#00ffa3"/>
<rect x="1939.5" y="1127.75" width="121" height="30.07" fill="#00ff8d"/>
<rect x="1939.5" y="1098.28" width="121" height="30.07" fill="#00ff77"/>
<rect x="1939.5" y="1068.8" width="121" height="30.07" fill="#00ff62"/>
<rect x="1939.5" y="1039.33" width="121" height="30.07" fill="#00ff4c"/>
<rect x="1939.5" y="1009.85" width="121" height="30.07" fill="#00ff36"/>
<rect x="1939.5" y="980.38" width="121" height="30.07" fill="#00ff21"/>
<rect x="1939.5" y="950.9" width="121" height="30.07" fill="#00ff0b"/>
<rect x="1939.5" y="921.42" width="121" height="30.07" fill="#0bff00"/>
<rect x="1939.5" y="891.95" width="121" height="30.07" fill="#21ff00"/>
<rect x="1939.5" y="862.48" width="121" height="30.07" fill="#36ff00"/>
<rect x="1939.5" y="833" width="121" height="30.07" fill="#4cff00"/>
<rect x="1939.5" y="803.52" width="121" height="30.07" fill="#62ff00"/>
<rect x="1939.5" y="774.05" width="121" height="30.07" fill="#77ff00"/>
<rect x="1939.5" y="744.58" width="121" height="30.07" fill="#8dff00"/>
<rect x="1939.5" y="715.1" width="121" height="30.07" fill="#a3ff00"/>
<rect x="1939.5" y="685.62" width="121" height="30.07" fill="#b8ff00"/>
<rect x="1939.5" y="656.15" width="121" height="30.07" fill="#ceff00"/>
<rect x="1939.5" y="626.67" width="121" height="30.07" fill="#e4ff00"/>
<rect x="1939.5" y="597.2" width="121" height="30.07" fill="#faff00"/>
<rect x="1939.5" y="567.73" width="121" height="30.07" fill="#ffef00"/>
<rect x="1939.5" y="538.25" width="121" height="30.07" fill="#ffd900"/>
<rect x="1939.5" y="508.77" width="121" height="30.07" fill="#ffc300"/>
<rect x="1939.5" y="479.3" width="121" height="30.07" fill="#ffae00"/>
<rect x="1939.5" y="449.82" width="121" height="30.07" fill="#ff9800"/>
<rect x="1939.5" y="420.35" width="121" height="30.07" fill="#ff8200"/>
<rect x="1939.5" y="390.88" width="121" height="30.07" fill="#ff6d00"/>
<rect x="1939.5" y="361.4" width="121" height="30.07" fill="#ff5700"/>
<rect x="1939.5" y="331.93" width="121" height="30.07" fill="#ff4100"/>
<rect x="1939.5" y="302.45" width="121" height="30.07" fill="#ff2b00"/>
<rect x="1939.5" y="272.98" width="121" height="30.07" fill="#ff1600"/>
<rect x="1939.5" y="243.5" width="121" height="30.07" fill="#ff0000"/>
<rect x="1939.5" y="1658.3" width="121" height="29.9" fill="#000"/>
<rect x="1938" y="211.1" width="124" height="2" fill="#8a8a8a"/>
<rect x="2062" y="214.3" width="2" height="1473.9" fill="#c4c4c4"/>
<rect x="1939.5" y="214.3" width="121" height="1473.9" fill="none" stroke="#000" stroke-width="3"/>
<g stroke="#000" stroke-width="3.2">
<line x1="2062" y1="243.5" x2="2091.5" y2="243.5"/>
<line x1="2062" y1="420.35" x2="2091.5" y2="420.35"/>
<line x1="2062" y1="597.2" x2="2091.5" y2="597.2"/>
<line x1="2062" y1="774.05" x2="2091.5" y2="774.05"/>
<line x1="2062" y1="950.9" x2="2091.5" y2="950.9"/>
<line x1="2062" y1="1127.75" x2="2091.5" y2="1127.75"/>
<line x1="2062" y1="1304.6" x2="2091.5" y2="1304.6"/>
<line x1="2062" y1="1481.45" x2="2091.5" y2="1481.45"/>
<line x1="2062" y1="1658.3" x2="2091.5" y2="1658.3"/>
</g>
<g class="cbl" style="stroke:none">
<text font-size="50.3" transform="translate(2107.8 261) scale(0.967 1)">388.0</text>
<text font-size="50.3" transform="translate(2107.8 437.85) scale(0.967 1)">359.3</text>
<text font-size="50.3" transform="translate(2107.8 614.7) scale(0.967 1)">330.5</text>
<text font-size="50.3" transform="translate(2107.8 791.55) scale(0.967 1)">301.8</text>
<text font-size="50.3" transform="translate(2107.8 968.4) scale(0.967 1)">273.0</text>
<text font-size="50.3" transform="translate(2107.8 1145.25) scale(0.967 1)">244.3</text>
<text font-size="50.3" transform="translate(2107.8 1322.1) scale(0.967 1)">215.5</text>
<text font-size="50.3" transform="translate(2107.8 1498.95) scale(0.967 1)">186.8</text>
<text font-size="50.3" transform="translate(2107.8 1675.8) scale(0.967 1)">158.0</text>
</g>
<text class="ttl" font-size="77" transform="translate(1769.3 162.8) scale(1.003 1)">Fugacity (psi)</text>
</g>
</g>
<text class="cap" font-size="85" x="1154.6" y="2051.2">(<tspan font-weight="bold" font-size="83" dx="-1.5">a</tspan><tspan dx="-2.4">)</tspan></text>
<text class="cap" font-size="85" x="1149.9" y="4141.2">(<tspan font-weight="bold" font-size="88" dx="-2">b</tspan><tspan dx="-0.7">)</tspan></text>
</svg>
</body>
</html>
